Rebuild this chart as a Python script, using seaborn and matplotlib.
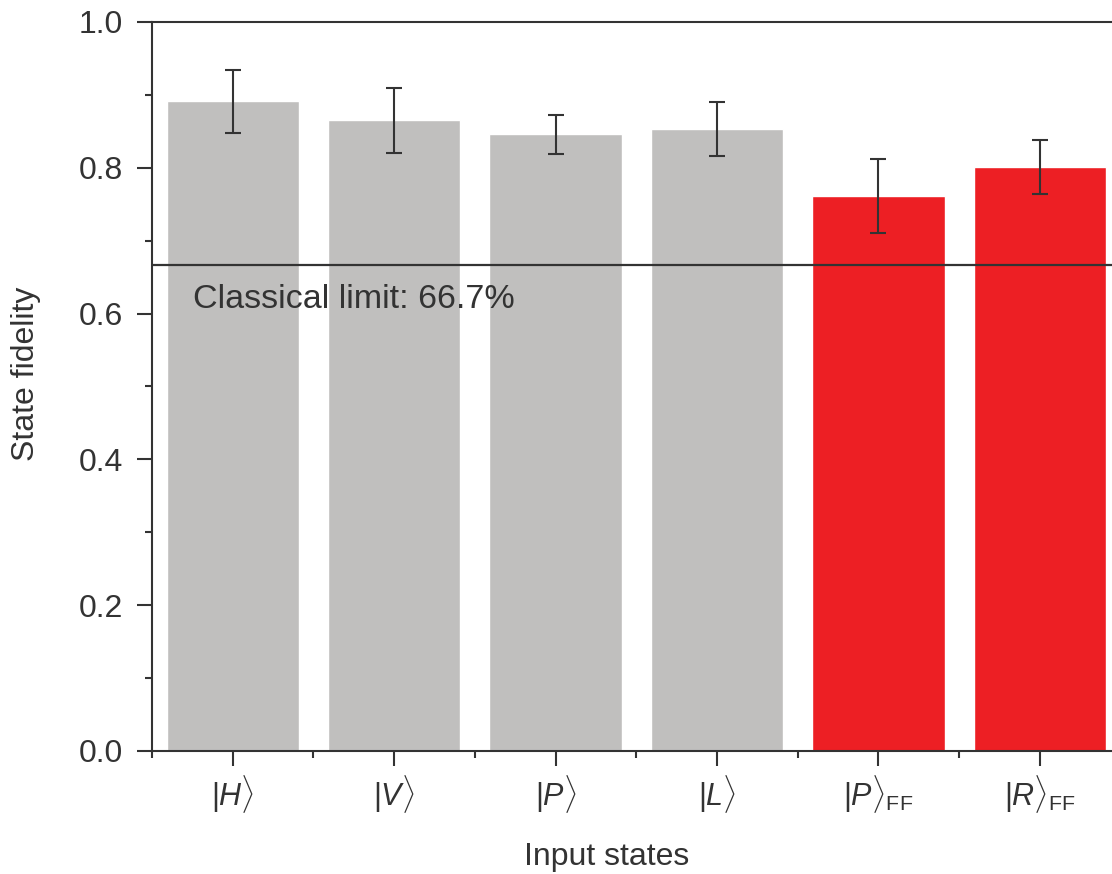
import matplotlib
matplotlib.use("Agg")
import matplotlib.pyplot as plt
import seaborn as sns
import pandas as pd
from matplotlib.ticker import MultipleLocator, FormatStrFormatter

# values
states = [r"$|H\rangle$", r"$|V\rangle$", r"$|P\rangle$", r"$|L\rangle$",
          r"$|P\rangle_{\mathrm{FF}}$", r"$|R\rangle_{\mathrm{FF}}$"]
fidelity = [0.891, 0.865, 0.846, 0.853, 0.761, 0.801]
err = [0.043, 0.045, 0.027, 0.037, 0.051, 0.037]
bar_colors = ["#c0bfbe", "#c0bfbe", "#c0bfbe", "#c0bfbe", "#ed1f24", "#ed1f24"]
classical_limit = 0.667

sns.set_style("ticks")
plt.rcParams["font.family"] = ["Liberation Sans", "DejaVu Sans"]
plt.rcParams["mathtext.fontset"] = "custom"
plt.rcParams["mathtext.rm"] = "Liberation Sans"
plt.rcParams["mathtext.it"] = "Liberation Sans:italic"
plt.rcParams["mathtext.bf"] = "Liberation Sans:bold"

ink = "#333333"
W, H = 1112, 874
df = pd.DataFrame({"state": states, "fidelity": fidelity})

fig = plt.figure(figsize=(W / 100, H / 100), dpi=100)
ax = fig.add_axes([152 / W, (H - 751) / H, 1 - 152 / W, (751 - 22) / H])

sns.barplot(data=df, x="state", y="fidelity", hue="state", palette=bar_colors,
            legend=False, width=0.82, saturation=1, ax=ax, zorder=2)
ax.errorbar(range(len(states)), fidelity, yerr=err, fmt="none", ecolor=ink,
            elinewidth=1.5, capsize=6, capthick=1.5, zorder=4)

ax.axhline(classical_limit, color=ink, lw=1.6, zorder=5)
ax.text(-0.246, 0.619, "Classical limit: 66.7%", fontsize=24.5,
        color=ink, va="center", ha="left", zorder=6)

ax.set_ylim(0, 1.0)
ax.set_xlim(-0.5, 5.447)
ax.yaxis.set_major_locator(MultipleLocator(0.2))
ax.yaxis.set_minor_locator(MultipleLocator(0.1))
ax.yaxis.set_major_formatter(FormatStrFormatter("%.1f"))
ax.set_xticks(range(len(states)))
ax.set_xticks([i + 0.5 for i in range(-1, 5)], minor=True)
ax.set_xticklabels(states)

ax.tick_params(axis="both", which="major", direction="out", length=11,
               width=1.5, colors=ink, labelsize=23, pad=10)
ax.tick_params(axis="both", which="minor", direction="out", length=5,
               width=1.5, colors=ink)
ax.tick_params(axis="x", which="major", labelsize=22, pad=5)

for side in ["left", "bottom", "top"]:
    ax.spines[side].set_color(ink)
    ax.spines[side].set_linewidth(1.5)
ax.spines["right"].set_visible(False)

ax.set_xlabel("")
ax.set_ylabel("")
fig.text(607 / W, 1 - 857 / H, "Input states", fontsize=23, color=ink,
         ha="center", va="center")
fig.text(26 / W, 1 - 374 / H, "State fidelity", fontsize=23, color=ink,
         ha="center", va="center", rotation=90)

fig.savefig("out.png", dpi=100)
